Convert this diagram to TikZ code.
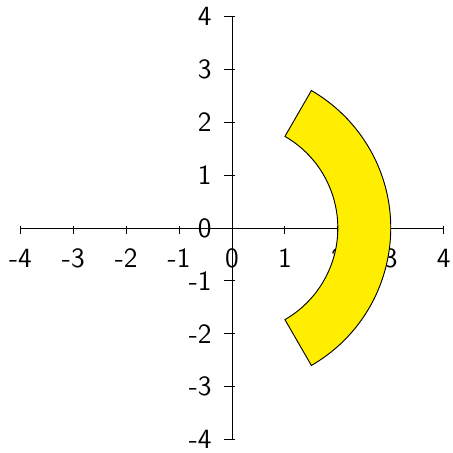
\documentclass[tikz,border=0pt]{standalone}
\definecolor{sectorfill}{RGB}{255,238,0}
\begin{document}
\begin{tikzpicture}[
  axisline/.style={line width=0.5pt, black},
  ticklbl/.style={inner sep=0pt, font=\sffamily\fontsize{15}{18}\selectfont},
]
\useasboundingbox (-4.386,-4.253) rectangle (4.159,4.310);
% axes
\coordinate (xl) at (-4,0); \coordinate (xr) at (4,0);
\coordinate (yb) at (0,-4); \coordinate (yt) at (0,4);
\draw[axisline] (xl) -- (xr);
\draw[axisline] (yb) -- (yt);
\foreach \i in {-4,...,4} {
  \draw[axisline] (\i,0.043) -- (\i,-0.12);
  \node[ticklbl, anchor=base] (xlab\i) at (\i,-0.74) {\i};
  \draw[axisline] (-0.159,\i) -- (0.05,\i);
  \node[ticklbl, anchor=base east] (ylab\i) at (-0.378,\i-0.175) {\i};
}
% sector
\draw[fill=sectorfill, line width=0.5pt] (-60:3) arc (-60:60:3) -- (60:2) arc (60:-60:2) -- cycle;
\end{tikzpicture}
\end{document}
